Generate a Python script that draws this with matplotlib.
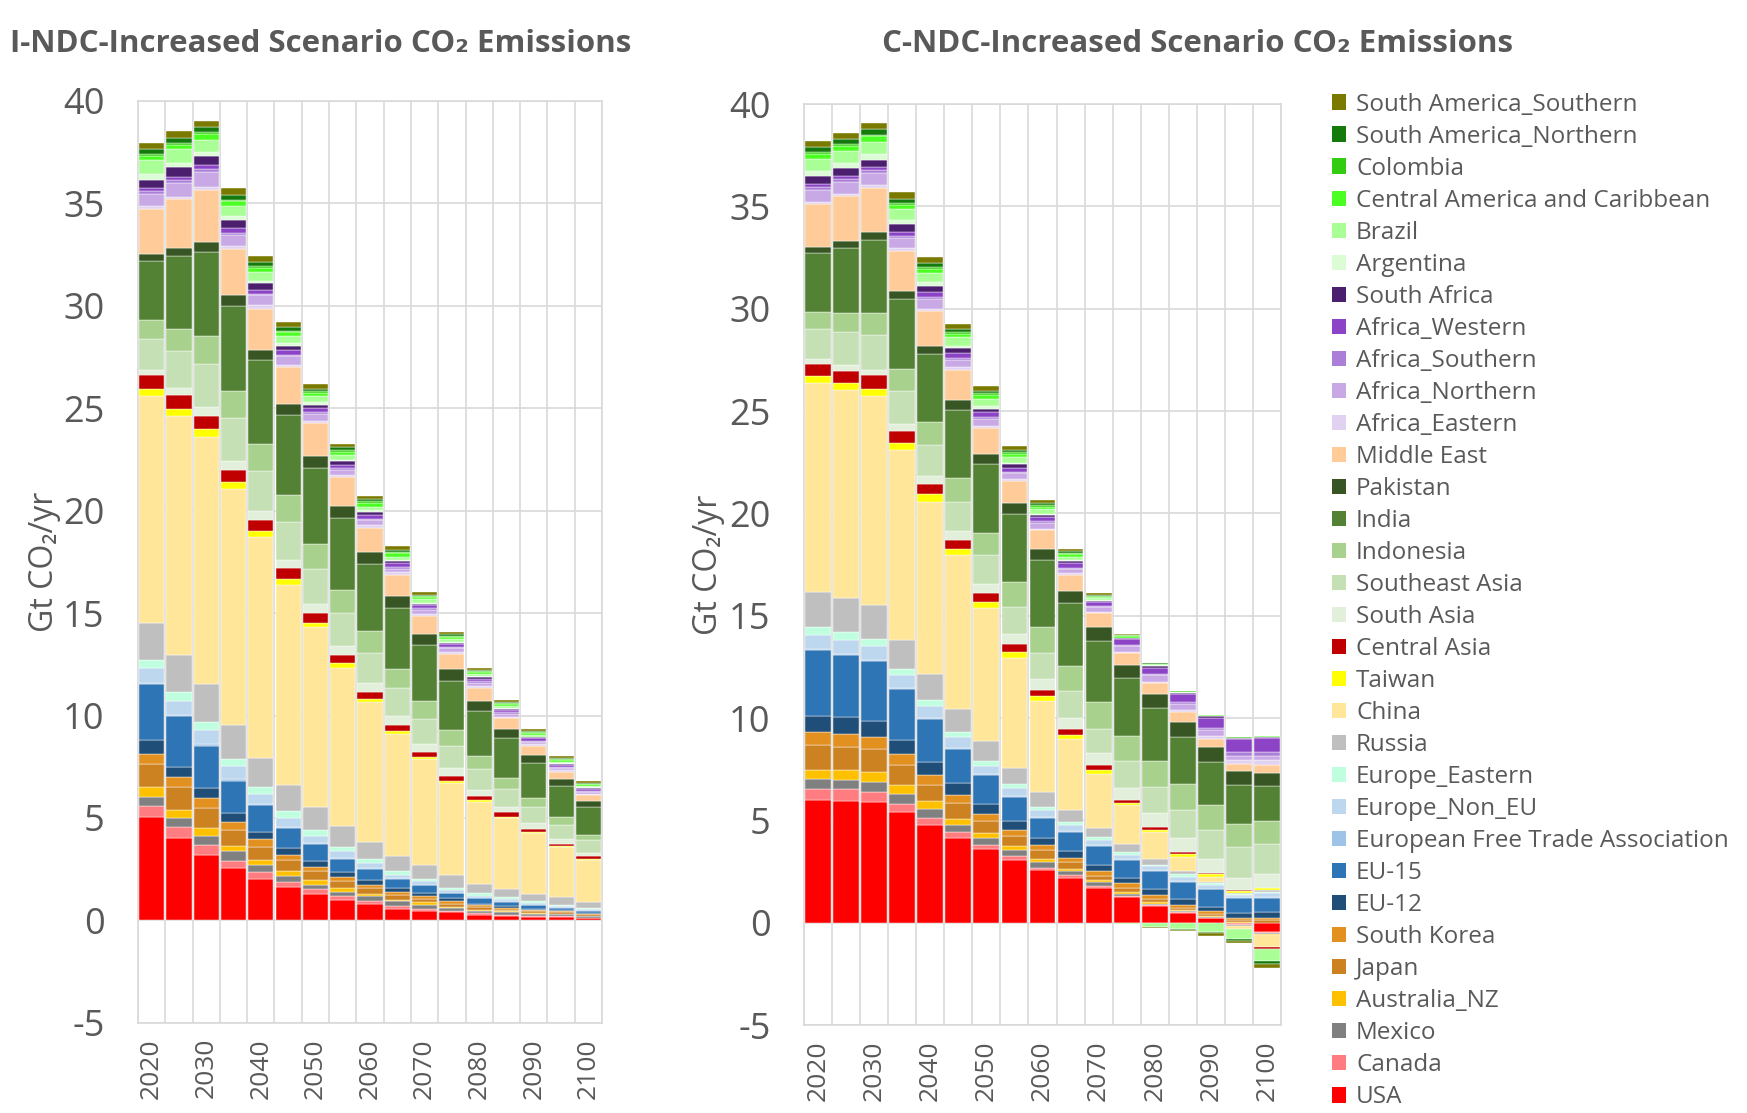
import numpy as np
import matplotlib
matplotlib.use('Agg')
from matplotlib import pyplot as plt
from matplotlib.patches import Patch

plt.rcParams['font.family'] = ['Open Sans', 'DejaVu Sans']

years = list(range(2020, 2101, 5))

# stacking order, bottom to top
regions = ['USA', 'Canada', 'Mexico', 'Australia_NZ', 'Japan', 'South Korea', 'EU-12', 'EU-15',
           'European Free Trade Association', 'Europe_Non_EU', 'Europe_Eastern', 'Russia', 'China',
           'Taiwan', 'Central Asia', 'South Asia', 'Southeast Asia', 'Indonesia', 'India', 'Pakistan',
           'Middle East', 'Africa_Eastern', 'Africa_Northern', 'Africa_Southern', 'Africa_Western',
           'South Africa', 'Argentina', 'Brazil', 'Central America and Caribbean', 'Colombia',
           'South America_Northern', 'South America_Southern']
colors = ['#ff0000', '#ff7c80', '#808080', '#ffc000', '#cd8222', '#e29020', '#1f4e79', '#2e75b6',
          '#9dc3e6', '#bdd7ee', '#bfffdf', '#bfbfbf', '#ffe699',
          '#ffff00', '#c00000', '#e2efda', '#c5e0b4', '#a9d18e', '#548235', '#375623',
          '#ffcc99', '#e2d2f2', '#c9a8e6', '#ab7fd8', '#8c43c6',
          '#4b1f6e', '#dcfcd6', '#a9ff96', '#4cff22', '#33cc11',
          '#157a0c', '#7a7a00']

# I-NDC-Increased, Gt CO2/yr
usa_i = [5.04, 4.04, 3.19, 2.56, 2.02, 1.61, 1.28, 1.02, 0.79, 0.58, 0.47, 0.39, 0.28, 0.23, 0.19, 0.18, 0.10]
canada_i = [0.54, 0.50, 0.49, 0.33, 0.33, 0.25, 0.25, 0.16, 0.17, 0.12, 0.11, 0.05, 0.07, 0.03, 0.04, 0.03, 0.04]
mexico_i = [0.42, 0.44, 0.44, 0.48, 0.35, 0.33, 0.22, 0.22, 0.22, 0.23, 0.17, 0.16, 0.12, 0.14, 0.09, 0.09, 0.07]
aus_i = [0.49, 0.42, 0.39, 0.28, 0.25, 0.21, 0.21, 0.18, 0.10, 0.09, 0.13, 0.05, 0.06, 0.04, 0.04, 0.03, 0.02]
japan_i = [1.14, 1.09, 0.96, 0.77, 0.65, 0.55, 0.44, 0.35, 0.30, 0.24, 0.17, 0.17, 0.12, 0.09, 0.09, 0.07, 0.06]
korea_i = [0.47, 0.49, 0.49, 0.40, 0.35, 0.24, 0.20, 0.18, 0.14, 0.14, 0.13, 0.11, 0.10, 0.09, 0.05, 0.04, 0.04]
eu12_i = [0.70, 0.53, 0.51, 0.41, 0.38, 0.35, 0.29, 0.26, 0.24, 0.18, 0.14, 0.16, 0.07, 0.09, 0.07, 0.05, 0.05]
eu15_i = [2.72, 2.45, 2.05, 1.59, 1.29, 0.98, 0.85, 0.64, 0.55, 0.44, 0.40, 0.24, 0.26, 0.20, 0.16, 0.12, 0.10]
efta_i = [0.05, 0.07, 0.08, 0.07, 0.05, 0.04, 0.03, 0.03, 0.03, 0.03, 0.02, 0.02, 0.02, 0.02, 0.02, 0.02, 0.02]
noneu_i = [0.74, 0.70, 0.70, 0.65, 0.51, 0.46, 0.35, 0.33, 0.24, 0.18, 0.16, 0.12, 0.11, 0.11, 0.09, 0.07, 0.07]
eeast_i = [0.40, 0.44, 0.38, 0.35, 0.35, 0.30, 0.27, 0.23, 0.20, 0.17, 0.14, 0.12, 0.14, 0.12, 0.10, 0.07, 0.05]
russia_i = [1.80, 1.80, 1.85, 1.64, 1.42, 1.31, 1.14, 1.00, 0.86, 0.76, 0.65, 0.62, 0.44, 0.39, 0.35, 0.35, 0.27]
china_i = [11.10, 11.63, 12.05, 11.53, 10.76, 9.74, 8.77, 7.72, 6.80, 5.93, 5.17, 4.51, 4.01, 3.47, 2.96, 2.44, 2.05]
taiwan_i = [0.34, 0.36, 0.38, 0.34, 0.31, 0.30, 0.23, 0.22, 0.18, 0.16, 0.11, 0.10, 0.06, 0.05, 0.05, 0.05, 0.05]
casia_i = [0.65, 0.70, 0.65, 0.60, 0.54, 0.52, 0.47, 0.41, 0.35, 0.28, 0.26, 0.23, 0.22, 0.21, 0.17, 0.14, 0.13]
sasia_i = [0.25, 0.33, 0.46, 0.44, 0.44, 0.41, 0.44, 0.42, 0.44, 0.47, 0.39, 0.39, 0.30, 0.26, 0.26, 0.23, 0.19]
seasia_i = [1.55, 1.79, 2.11, 2.06, 1.95, 1.84, 1.72, 1.63, 1.46, 1.32, 1.22, 1.08, 1.02, 0.87, 0.79, 0.66, 0.59]
indonesia_i = [0.90, 1.09, 1.34, 1.36, 1.32, 1.30, 1.22, 1.14, 1.05, 0.96, 0.85, 0.76, 0.62, 0.56, 0.43, 0.39, 0.27]
india_i = [2.90, 3.55, 4.12, 4.12, 4.06, 3.91, 3.69, 3.50, 3.28, 2.98, 2.75, 2.42, 2.19, 1.93, 1.71, 1.53, 1.37]
pakistan_i = [0.34, 0.40, 0.49, 0.52, 0.50, 0.57, 0.61, 0.57, 0.57, 0.56, 0.53, 0.56, 0.51, 0.44, 0.40, 0.35, 0.31]
mideast_i = [2.18, 2.40, 2.54, 2.25, 2.02, 1.77, 1.59, 1.42, 1.19, 1.04, 0.91, 0.74, 0.63, 0.53, 0.47, 0.35, 0.27]
afeast_i = [0.16, 0.10, 0.14, 0.17, 0.17, 0.13, 0.08, 0.10, 0.16, 0.12, 0.09, 0.10, 0.07, 0.05, 0.06, 0.07, 0.07]
afnorth_i = [0.57, 0.68, 0.72, 0.55, 0.48, 0.41, 0.36, 0.24, 0.20, 0.18, 0.17, 0.18, 0.17, 0.14, 0.12, 0.09, 0.09]
afsouth_i = [0.13, 0.13, 0.13, 0.10, 0.08, 0.08, 0.10, 0.12, 0.08, 0.08, 0.09, 0.07, 0.09, 0.09, 0.05, 0.05, 0.05]
afwest_i = [0.18, 0.16, 0.20, 0.24, 0.21, 0.21, 0.20, 0.16, 0.20, 0.19, 0.14, 0.14, 0.11, 0.10, 0.12, 0.11, 0.09]
safrica_i = [0.40, 0.46, 0.44, 0.38, 0.32, 0.23, 0.16, 0.16, 0.13, 0.09, 0.09, 0.07, 0.09, 0.05, 0.05, 0.05, 0.05]
argentina_i = [0.25, 0.24, 0.20, 0.20, 0.12, 0.13, 0.11, 0.08, 0.08, 0.08, 0.05, 0.05, 0.04, 0.05, 0.04, 0.03, 0.03]
brazil_i = [0.70, 0.64, 0.59, 0.49, 0.42, 0.33, 0.30, 0.24, 0.19, 0.16, 0.17, 0.14, 0.09, 0.12, 0.09, 0.07, 0.05]
camerica_i = [0.20, 0.20, 0.29, 0.21, 0.20, 0.20, 0.16, 0.13, 0.18, 0.16, 0.10, 0.09, 0.09, 0.09, 0.09, 0.09, 0.09]
colombia_i = [0.10, 0.10, 0.08, 0.08, 0.08, 0.07, 0.08, 0.08, 0.07, 0.08, 0.05, 0.05, 0.05, 0.05, 0.04, 0.04, 0.04]
sanorth_i = [0.25, 0.24, 0.28, 0.23, 0.21, 0.18, 0.13, 0.15, 0.10, 0.08, 0.07, 0.07, 0.07, 0.05, 0.05, 0.05, 0.05]
sasouth_i = [0.30, 0.34, 0.29, 0.33, 0.28, 0.25, 0.25, 0.18, 0.16, 0.21, 0.13, 0.11, 0.12, 0.12, 0.11, 0.09, 0.09]

# C-NDC-Increased, Gt CO2/yr
usa_c = [6.02, 5.96, 5.89, 5.40, 4.79, 4.14, 3.60, 3.07, 2.56, 2.19, 1.72, 1.25, 0.84, 0.49, 0.23, -0.08, -0.47]
canada_c = [0.49, 0.55, 0.51, 0.41, 0.35, 0.30, 0.22, 0.19, 0.12, 0.14, 0.09, 0.08, 0.05, 0.03, 0.02, -0.02, -0.03]
mexico_c = [0.51, 0.47, 0.49, 0.47, 0.40, 0.35, 0.32, 0.27, 0.27, 0.18, 0.17, 0.09, 0.05, 0.04, 0.03, -0.04, -0.06]
aus_c = [0.44, 0.48, 0.48, 0.44, 0.39, 0.30, 0.25, 0.21, 0.17, 0.12, 0.09, 0.09, 0.09, 0.05, 0.04, 0.02, -0.03]
japan_c = [1.22, 1.14, 1.14, 1.00, 0.82, 0.75, 0.57, 0.49, 0.41, 0.32, 0.23, 0.21, 0.14, 0.13, 0.12, 0.09, 0.12]
korea_c = [0.64, 0.63, 0.56, 0.53, 0.46, 0.39, 0.35, 0.30, 0.26, 0.23, 0.24, 0.23, 0.17, 0.14, 0.12, 0.10, 0.11]
eu12_c = [0.80, 0.81, 0.81, 0.70, 0.65, 0.58, 0.47, 0.43, 0.35, 0.33, 0.28, 0.24, 0.30, 0.26, 0.22, 0.25, 0.30]
eu15_c = [3.20, 3.03, 2.90, 2.46, 2.10, 1.66, 1.44, 1.18, 1.00, 0.93, 0.92, 0.88, 0.88, 0.84, 0.85, 0.75, 0.70]
efta_c = [0.05, 0.05, 0.06, 0.05, 0.05, 0.05, 0.05, 0.04, 0.04, 0.04, 0.04, 0.04, 0.04, 0.04, 0.03, 0.03, 0.03]
noneu_c = [0.68, 0.70, 0.68, 0.65, 0.57, 0.55, 0.40, 0.40, 0.34, 0.30, 0.26, 0.21, 0.19, 0.23, 0.17, 0.12, 0.17]
eeast_c = [0.42, 0.37, 0.34, 0.31, 0.28, 0.24, 0.23, 0.21, 0.14, 0.14, 0.14, 0.12, 0.09, 0.12, 0.09, 0.05, 0.09]
russia_c = [1.69, 1.69, 1.65, 1.40, 1.30, 1.11, 1.00, 0.79, 0.75, 0.58, 0.44, 0.40, 0.27, 0.14, 0.07, 0.05, 0.09]
china_c = [10.19, 10.15, 10.24, 9.27, 8.38, 7.55, 6.46, 5.37, 4.42, 3.49, 2.63, 1.90, 1.30, 0.71, 0.23, -0.17, -0.58]
taiwan_c = [0.36, 0.35, 0.34, 0.33, 0.41, 0.29, 0.30, 0.27, 0.23, 0.19, 0.21, 0.12, 0.14, 0.15, 0.14, 0.08, 0.10]
casia_c = [0.59, 0.59, 0.65, 0.62, 0.48, 0.44, 0.43, 0.38, 0.30, 0.30, 0.23, 0.12, 0.14, 0.09, 0.09, 0.05, -0.09]
sasia_c = [0.24, 0.28, 0.29, 0.32, 0.41, 0.42, 0.44, 0.49, 0.56, 0.52, 0.60, 0.61, 0.65, 0.67, 0.65, 0.61, 0.65]
seasia_c = [1.45, 1.59, 1.68, 1.62, 1.50, 1.45, 1.42, 1.35, 1.25, 1.32, 1.19, 1.30, 1.31, 1.37, 1.43, 1.49, 1.49]
indonesia_c = [0.83, 0.95, 1.09, 1.07, 1.11, 1.14, 1.11, 1.20, 1.26, 1.23, 1.31, 1.25, 1.26, 1.26, 1.20, 1.11, 1.11]
india_c = [2.88, 3.16, 3.54, 3.42, 3.34, 3.36, 3.37, 3.32, 3.28, 3.07, 2.99, 2.81, 2.57, 2.32, 2.14, 1.93, 1.70]
pakistan_c = [0.30, 0.36, 0.39, 0.41, 0.40, 0.47, 0.49, 0.54, 0.54, 0.58, 0.65, 0.64, 0.70, 0.75, 0.70, 0.70, 0.67]
mideast_c = [2.11, 2.18, 2.18, 1.95, 1.68, 1.48, 1.26, 1.09, 0.93, 0.81, 0.70, 0.58, 0.52, 0.47, 0.40, 0.35, 0.38]
afeast_c = [0.12, 0.10, 0.14, 0.12, 0.11, 0.11, 0.08, 0.08, 0.08, 0.08, 0.05, 0.07, 0.07, 0.09, 0.14, 0.16, 0.23]
afnorth_c = [0.57, 0.61, 0.57, 0.52, 0.49, 0.36, 0.37, 0.29, 0.28, 0.17, 0.23, 0.28, 0.35, 0.30, 0.30, 0.23, 0.23]
afsouth_c = [0.13, 0.12, 0.14, 0.10, 0.08, 0.10, 0.08, 0.08, 0.08, 0.08, 0.07, 0.07, 0.05, 0.09, 0.09, 0.17, 0.17]
afwest_c = [0.16, 0.15, 0.16, 0.19, 0.25, 0.25, 0.25, 0.19, 0.20, 0.22, 0.19, 0.26, 0.30, 0.42, 0.52, 0.62, 0.68]
safrica_c = [0.38, 0.40, 0.37, 0.38, 0.29, 0.22, 0.16, 0.16, 0.09, 0.09, 0.07, 0.05, 0.09, 0.04, 0.07, 0.07, 0.05]
argentina_c = [0.26, 0.25, 0.25, 0.19, 0.20, 0.13, 0.11, 0.08, 0.08, 0.07, 0.02, 0.02, 0.02, 0.02, 0.02, 0.01, 0.01]
brazil_c = [0.58, 0.58, 0.63, 0.54, 0.47, 0.41, 0.38, 0.29, 0.21, 0.13, 0.09, -0.07, -0.20, -0.30, -0.45, -0.50, -0.60]
camerica_c = [0.24, 0.25, 0.25, 0.21, 0.20, 0.18, 0.16, 0.16, 0.13, 0.15, 0.07, 0.07, 0.05, 0.03, 0.02, 0.01, 0.02]
colombia_c = [0.10, 0.10, 0.09, 0.11, 0.10, 0.10, 0.10, 0.08, 0.08, 0.08, 0.05, 0.05, 0.03, 0.03, 0.02, 0.01, 0.01]
sanorth_c = [0.27, 0.24, 0.25, 0.19, 0.17, 0.15, 0.12, 0.11, 0.10, 0.08, 0.05, 0.03, 0.03, -0.05, -0.05, -0.08, -0.14]
sasouth_c = [0.27, 0.31, 0.31, 0.33, 0.29, 0.24, 0.24, 0.20, 0.16, 0.11, 0.07, 0.05, -0.08, -0.05, -0.15, -0.08, -0.22]

series_i = [usa_i, canada_i, mexico_i, aus_i, japan_i, korea_i, eu12_i, eu15_i, efta_i, noneu_i,
            eeast_i, russia_i, china_i, taiwan_i, casia_i, sasia_i, seasia_i, indonesia_i, india_i,
            pakistan_i, mideast_i, afeast_i, afnorth_i, afsouth_i, afwest_i, safrica_i, argentina_i,
            brazil_i, camerica_i, colombia_i, sanorth_i, sasouth_i]
series_c = [usa_c, canada_c, mexico_c, aus_c, japan_c, korea_c, eu12_c, eu15_c, efta_c, noneu_c,
            eeast_c, russia_c, china_c, taiwan_c, casia_c, sasia_c, seasia_c, indonesia_c, india_c,
            pakistan_c, mideast_c, afeast_c, afnorth_c, afsouth_c, afwest_c, safrica_c, argentina_c,
            brazil_c, camerica_c, colombia_c, sanorth_c, sasouth_c]

grey = '#595959'
gridc = '#d9d9d9'


def draw(ax, series):
    x = np.arange(len(years))
    pos = np.zeros(len(years))
    neg = np.zeros(len(years))
    for vals, c in zip(series, colors):
        v = np.array(vals)
        b = np.where(v >= 0, pos, neg)
        ax.bar(x, v, bottom=b, width=0.92, color=c, edgecolor='white', linewidth=0.3, zorder=3)
        pos = pos + np.clip(v, 0, None)
        neg = neg + np.clip(v, None, 0)
    ax.set_xlim(-0.5, len(years) - 0.5)
    ax.set_ylim(-5, 40)
    ax.set_yticks(range(-5, 41, 5))
    ax.set_yticklabels([str(t) for t in range(-5, 41, 5)], fontsize=26, color=grey)
    ax.set_xticks(x[::2])
    ax.set_xticklabels([str(y) for y in years[::2]], rotation=90, fontsize=19, color=grey)
    ax.set_xticks(np.arange(-0.5, len(years), 1), minor=True)
    ax.tick_params(which='both', length=0)
    ax.tick_params(axis='x', pad=11)
    ax.tick_params(axis='y', pad=24)
    ax.set_axisbelow(True)
    ax.yaxis.grid(True, color=gridc, lw=1.2)
    ax.xaxis.grid(True, which='minor', color=gridc, lw=1.2)
    for s in ax.spines.values():
        s.set_color(gridc)
        s.set_linewidth(1.2)
    ax.set_ylabel('Gt CO₂/yr', fontsize=23, color=grey)


fig = plt.figure(figsize=(17.47, 11.13), dpi=100)
ax1 = fig.add_axes([0.079, 0.081, 0.2656, 0.8284])
ax2 = fig.add_axes([0.4602, 0.079, 0.2731, 0.8275])
draw(ax1, series_i)
draw(ax2, series_c)
ax1.yaxis.set_label_coords(-0.165, 0.5)
ax2.yaxis.set_label_coords(-0.165, 0.5)

fig.text(321 / 1747, 1 - 44 / 1113, 'I-NDC-Increased Scenario CO₂ Emissions',
         ha='center', va='center', fontsize=22.5, fontweight='bold', color=grey)
fig.text(1198 / 1747, 1 - 44 / 1113, 'C-NDC-Increased Scenario CO₂ Emissions',
         ha='center', va='center', fontsize=22.5, fontweight='bold', color=grey)

handles = [Patch(facecolor=c, label=r) for r, c in zip(regions, colors)][::-1]
fig.legend(handles=handles, loc='upper left', bbox_to_anchor=(1322 / 1747, 1 - 83 / 1113),
           frameon=False, fontsize=17.5, labelcolor=grey, handlelength=0.6, handleheight=0.6,
           handletextpad=0.4, labelspacing=0.33, borderaxespad=0)

fig.savefig('out.png', dpi=100)
